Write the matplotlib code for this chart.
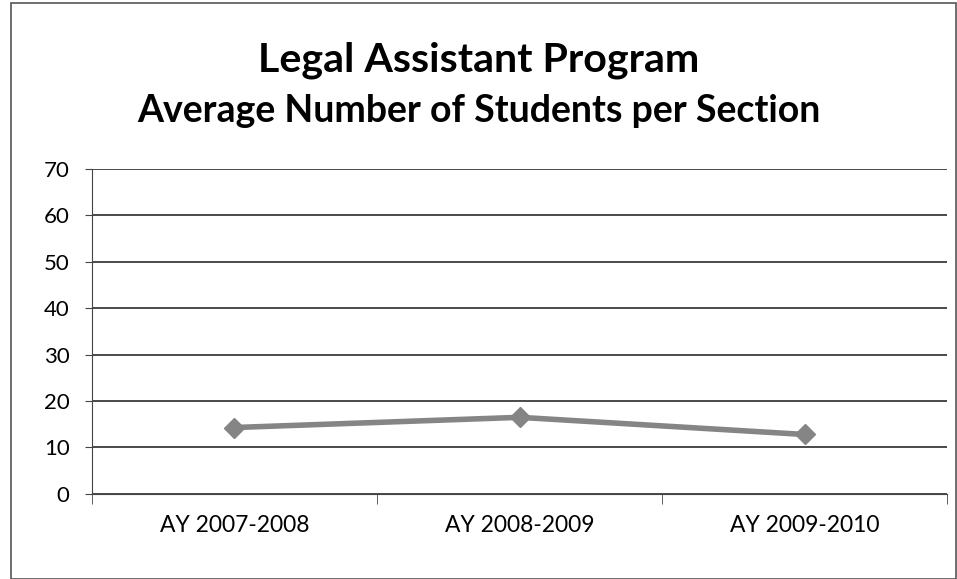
import matplotlib.pyplot as plt
from matplotlib.patches import Rectangle

categories = ["AY 2007-2008", "AY 2008-2009", "AY 2009-2010"]
values = [14.3, 16.5, 12.8]
yticks = [0, 10, 20, 30, 40, 50, 60, 70]

plt.rcParams['font.family'] = ['Lato', 'DejaVu Sans']

fig = plt.figure(figsize=(9.57, 5.79), dpi=100)
fig.patch.set_facecolor('white')
fig.patches.append(Rectangle((0.012, 0.0), 0.987, 0.994, transform=fig.transFigure,
                             fill=False, edgecolor='#555555', linewidth=1.2))

ax = fig.add_axes([0.096, 0.147, 0.894, 0.561])
x = list(range(len(categories)))
ax.plot(x, values, color='#858585', linewidth=4, marker='D', markersize=10,
        markerfacecolor='#858585', markeredgecolor='#858585', zorder=3)

ax.set_xlim(-0.5, len(categories) - 0.5)
ax.set_ylim(0, 70)
ax.set_yticks(yticks)
ax.set_yticklabels([str(t) for t in yticks], fontsize=16)
ax.set_xticks(x)
ax.set_xticklabels(categories, fontsize=16.5)
ax.set_xticks([i + 0.5 for i in range(-1, len(categories))], minor=True)
ax.tick_params(axis='x', which='major', length=0, pad=15)
ax.tick_params(axis='x', which='minor', length=7, color='#444444')
ax.tick_params(axis='y', length=5, color='#444444', pad=11)

ax.grid(axis='y', color='#4a4a4a', linewidth=1.4)
ax.set_axisbelow(True)
for s in ['top', 'right']:
    ax.spines[s].set_visible(False)
ax.spines['left'].set_color('#444444')
ax.spines['bottom'].set_color('#444444')

fig.text(0.5, 0.877, "Legal Assistant Program", ha='center', va='baseline',
         fontsize=29.6, fontweight='bold')
fig.text(0.5, 0.789, "Average Number of Students per Section", ha='center', va='baseline',
         fontsize=27, fontweight='bold')

fig.savefig('out.png', dpi=100)
